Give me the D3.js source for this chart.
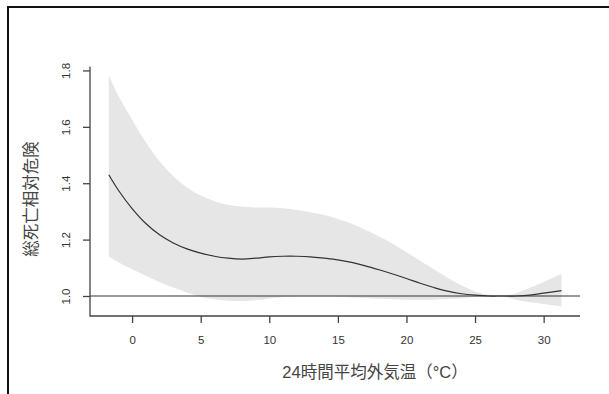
<!DOCTYPE html>
<html><head><meta charset="utf-8">
<script src="https://cdn.jsdelivr.net/npm/d3@7/dist/d3.min.js"></script>
<style>
html,body{margin:0;padding:0;background:#fff;}
svg{display:block;}
text{font-family:"Liberation Sans",Arial,"Noto Sans CJK JP",sans-serif;}
</style></head>
<body>
<svg id="chart" width="609" height="394"></svg>
<script>
const temps = [-1.7,-1,0,1,2,3,4,5,6,7,8,9,10,11,12,13,14,15,16,17,18,19,20,21,22,23,24,25,26,27,28,29,30,31.3];
const rr    = [1.430,1.375,1.310,1.257,1.217,1.188,1.167,1.152,1.141,1.134,1.131,1.134,1.139,1.141,1.141,1.139,1.134,1.128,1.119,1.107,1.093,1.078,1.062,1.045,1.030,1.017,1.008,1.003,1.000,1.000,1.000,1.003,1.010,1.019];
const upper = [1.785,1.710,1.625,1.545,1.478,1.425,1.385,1.356,1.336,1.324,1.317,1.314,1.314,1.311,1.305,1.297,1.287,1.273,1.256,1.235,1.211,1.185,1.155,1.125,1.095,1.065,1.038,1.016,1.004,0.999,1.010,1.029,1.050,1.078];
const lower = [1.140,1.120,1.095,1.072,1.050,1.030,1.012,0.997,0.988,0.983,0.982,0.985,0.991,0.996,0.998,0.998,0.998,0.997,0.995,0.993,0.990,0.988,0.987,0.987,0.987,0.989,0.992,0.996,0.999,0.999,0.986,0.978,0.972,0.964];
const xTicks = [0,5,10,15,20,25,30];
const yTicks = [1.0,1.2,1.4,1.6,1.8];
const xLabel = "24時間平均外気温（°C）";
const yLabel = "総死亡相対危険";

const data = temps.map((t,i)=>({t, rr: rr[i], lo: lower[i], hi: upper[i]}));
const svg = d3.select("#chart");

// outer frame
svg.append("line").attr("x1",7).attr("x2",609).attr("y1",7).attr("y2",7).attr("stroke","#111").attr("stroke-width",2);
svg.append("line").attr("x1",8).attr("x2",8).attr("y1",6).attr("y2",394).attr("stroke","#111").attr("stroke-width",2);

const x = d3.scaleLinear().domain([-3.07, 32.65]).range([90, 580]);
const y = d3.scaleLinear().domain([0.929, 1.814]).range([316, 66.5]);

const curve = d3.curveCatmullRom.alpha(0.5);

// band
const area = d3.area().x(d=>x(d.t)).y0(d=>y(d.lo)).y1(d=>y(d.hi)).curve(curve);
svg.append("path").datum(data).attr("d",area).attr("fill","#e6e6e6");

// reference line at 1.0
svg.append("line").attr("x1",x.range()[0]).attr("x2",x.range()[1])
  .attr("y1",y(1)).attr("y2",y(1)).attr("stroke","#333").attr("stroke-width",1.2);

// main curve
const line = d3.line().x(d=>x(d.t)).y(d=>y(d.rr)).curve(curve);
svg.append("path").datum(data).attr("d",line).attr("fill","none").attr("stroke","#333").attr("stroke-width",1.2);

// box (L shape)
svg.append("path").attr("d",`M${x.range()[0]},${y.range()[1]}V${y.range()[0]}H${x.range()[1]}`)
  .attr("fill","none").attr("stroke","#444").attr("stroke-width",1.3);

// x axis
const gx = svg.append("g").attr("transform",`translate(0,${y.range()[0]})`)
  .call(d3.axisBottom(x).tickValues(xTicks).tickSize(7).tickPadding(13).tickFormat(d3.format("d")));
gx.select(".domain").remove();
gx.selectAll("line").attr("stroke","#444").attr("stroke-width",1.3);
gx.selectAll("text").attr("font-size",11.5).attr("fill","#333").attr("font-family",null);

// y axis
const gy = svg.append("g").attr("transform",`translate(${x.range()[0]},0)`)
  .call(d3.axisLeft(y).tickValues(yTicks).tickSize(7).tickFormat(d3.format(".1f")));
gy.select(".domain").remove();
gy.selectAll("line").attr("stroke","#444").attr("stroke-width",1.3);
gy.selectAll("text").attr("font-size",11.5).attr("fill","#333").attr("font-family",null)
  .attr("x",0).attr("y",-20.5).attr("dy",0).attr("text-anchor","middle")
  .attr("transform","rotate(-90)");

// axis titles
svg.append("text").attr("x",375).attr("y",372).attr("text-anchor","middle")
  .attr("dominant-baseline","central").attr("font-size",16.5).attr("fill","#444").text(xLabel);
svg.append("text").attr("transform","translate(31,199) rotate(-90)").attr("text-anchor","middle")
  .attr("dominant-baseline","central").attr("font-size",16.5).attr("fill","#444").text(yLabel);
</script>
</body></html>
